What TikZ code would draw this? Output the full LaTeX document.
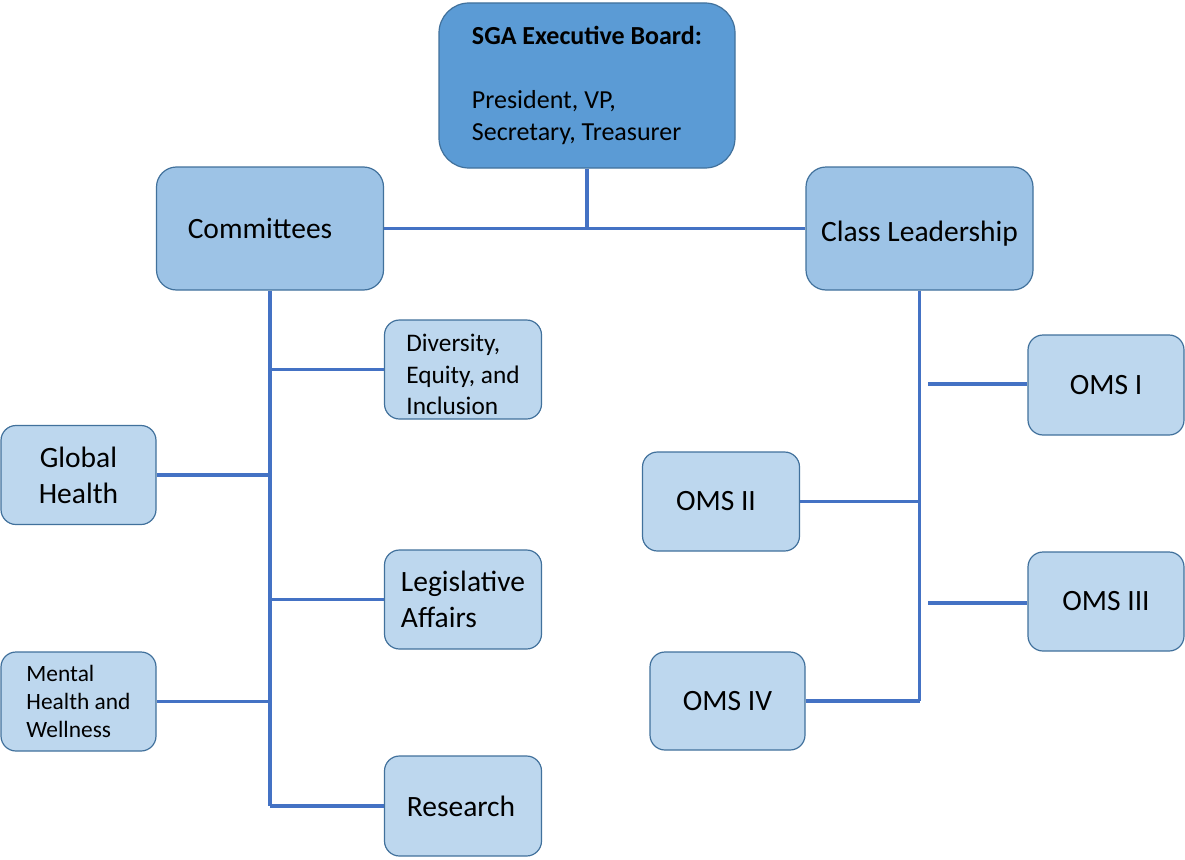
\documentclass[tikz,border=0pt]{standalone}
\usepackage{fontspec}
\setmainfont{Carlito}
\definecolor{topfill}{HTML}{5B9BD5}
\definecolor{midfill}{HTML}{9DC3E6}
\definecolor{smallfill}{HTML}{BDD7EE}
\definecolor{edgecol}{HTML}{41719C}
\definecolor{linkcol}{HTML}{4472C4}
\begin{document}
\begin{tikzpicture}[x=1pt,y=-1pt,
  boxbase/.style={draw=edgecol, line width=1.2pt, inner sep=0pt, text=black},
  topbox/.style={boxbase, fill=topfill, rounded corners=30pt, minimum width=296pt, minimum height=165pt},
  midbox/.style={boxbase, fill=midfill, rounded corners=20pt, minimum width=227pt, minimum height=123pt,
    font=\fontsize{29.5}{36}\selectfont},
  smallbox/.style={boxbase, fill=smallfill, rounded corners=15pt, minimum width=157pt, minimum height=99pt,
    font=\fontsize{29.5}{36}\selectfont, align=center},
  link/.style={draw=linkcol, line width=3.6pt}
]
\path[use as bounding box, fill=white] (0,0) rectangle (1185,859);

% nodes
\node[topbox, align=left, font=\fontsize{26}{32}\selectfont] (sga) at (587,85.5)
  {\textbf{SGA Executive Board:}\\[32pt]President, VP,\\Secretary, Treasurer};
\node[midbox] (com) at (270,228.5) {Committees\hspace*{20pt}};
\node[midbox] (cls) at (919.5,228.5) {\rule{0pt}{30pt}Class Leadership};

\node[smallbox, align=left, font=\fontsize{25.3}{31.5}\selectfont] (dei) at (463,369.5) {\rule{0pt}{28pt}Diversity,\\Equity, and\\Inclusion};
\node[smallbox, minimum width=155pt] (gh) at (78.5,475) {Global\\Health};
\node[smallbox, align=left] (la) at (463,599.5) {Legislative\\Affairs};
\node[smallbox, minimum width=155pt, align=left, font=\fontsize{23.4}{28}\selectfont] (mh) at (78.5,701.5) {Mental\\Health and\\Wellness};
\node[smallbox, minimum height=100pt] (res) at (463,806) {Research\hspace*{4pt}};

\node[smallbox, minimum width=156pt, minimum height=100pt] (o1) at (1106,385) {OMS I};
\node[smallbox] (o2) at (721,501.5) {OMS II\hspace*{10pt}};
\node[smallbox, minimum width=156pt] (o3) at (1106,601.5) {OMS III};
\node[smallbox, minimum width=155pt, minimum height=98pt] (o4) at (727.5,701) {OMS IV};

% connectors
\draw[link] (sga.south) -- (sga.south |- com.east);
\draw[link] (com.east) -- (cls.west);

\draw[link] (com.south) -- (com.south |- res.west);
\draw[link] (dei.west) -- (dei.west -| com.south);
\draw[link] (gh.east) -- (gh.east -| com.south);
\draw[link] (la.west) -- (la.west -| com.south);
\draw[link] (mh.east) -- (mh.east -| com.south);
\draw[link] (res.west) -- (res.west -| com.south);

\draw[link] (cls.south) -- (cls.south |- o4.east);
\coordinate (o1s) at (928,384);
\coordinate (o3s) at (928,603);
\draw[link] (o1s) -- (o1.west |- o1s);
\draw[link] (o2.east) -- (o2.east -| cls.south);
\draw[link] (o3s) -- (o3.west |- o3s);
\draw[link] (o4.east) -- (o4.east -| cls.south);
\end{tikzpicture}
\end{document}
